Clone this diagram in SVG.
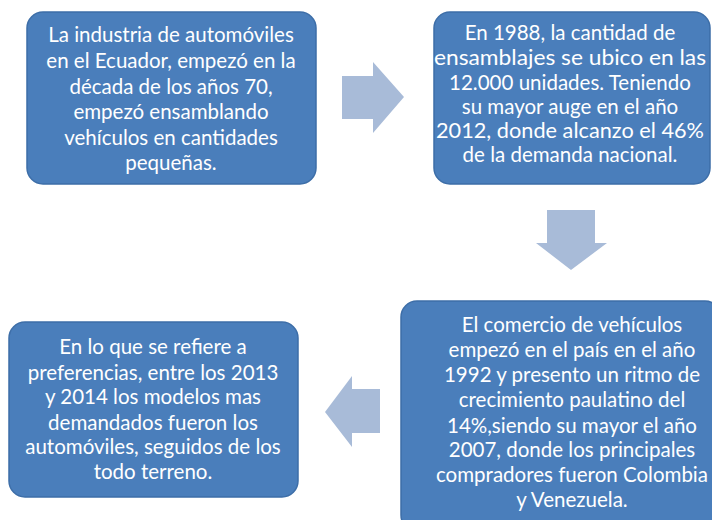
<svg xmlns="http://www.w3.org/2000/svg" width="712" height="520" viewBox="0 0 712 520">
<style>
.box{fill:#4a7ebb;stroke:#3d6ea8;stroke-width:1.5}
.arrow{fill:#a8bbd8}
text{font-family:Lato,"Open Sans","Liberation Sans",sans-serif;font-size:20.5px;fill:#ffffff;text-anchor:middle}
</style>
<rect width="712" height="520" fill="#ffffff"/>
<g id="connectors">
<polygon class="arrow" points="342,76 373,76 373,62 404,97 373,133 373,119 342,119"/>
<polygon class="arrow" points="547,210 595,210 595,243 607,243 571,270 536,243 547,243"/>
<polygon class="arrow" points="380,389 352,389 352,376 325,412 352,447 352,433 380,433"/>
</g>
<g id="node1">
<rect class="box" x="27" y="12" width="289" height="172" rx="16"/>
<text x="171" y="42">La industria de automóviles</text>
<text x="171" y="68">en el Ecuador, empezó en la</text>
<text x="171" y="94">década de los años 70,</text>
<text x="171" y="119">empezó ensamblando</text>
<text x="171" y="145">vehículos en cantidades</text>
<text x="171" y="170">pequeñas.</text>
</g>
<g id="node2">
<rect class="box" x="434" y="12" width="276" height="172" rx="16"/>
<text x="570" y="40">En 1988, la cantidad de</text>
<text x="570" y="65" textLength="272" lengthAdjust="spacingAndGlyphs">ensamblajes se ubico en las</text>
<text x="570" y="90">12.000 unidades. Teniendo</text>
<text x="570" y="114">su mayor auge en el año</text>
<text x="570" y="138" textLength="268" lengthAdjust="spacingAndGlyphs">2012, donde alcanzo el 46%</text>
<text x="570" y="162">de la demanda nacional.</text>
</g>
<g id="node3">
<rect class="box" x="401" y="301" width="320" height="230" rx="16"/>
<text x="572" y="332">El comercio de vehículos</text>
<text x="572" y="357">empezó en el país en el año</text>
<text x="572" y="382">1992 y presento un ritmo de</text>
<text x="572" y="407">crecimiento paulatino del</text>
<text x="572" y="433">14%,siendo su mayor el año</text>
<text x="572" y="457">2007, donde los principales</text>
<text x="572" y="482">compradores fueron Colombia</text>
<text x="572" y="507">y Venezuela.</text>
</g>
<g id="node4">
<rect class="box" x="9" y="322" width="289" height="175" rx="16"/>
<text x="153" y="354">En lo que se refiere a</text>
<text x="153" y="380">preferencias, entre los 2013</text>
<text x="153" y="404">y 2014 los modelos mas</text>
<text x="153" y="430">demandados fueron los</text>
<text x="153" y="454">automóviles, seguidos de los</text>
<text x="153" y="479">todo terreno.</text>
</g>
</svg>
